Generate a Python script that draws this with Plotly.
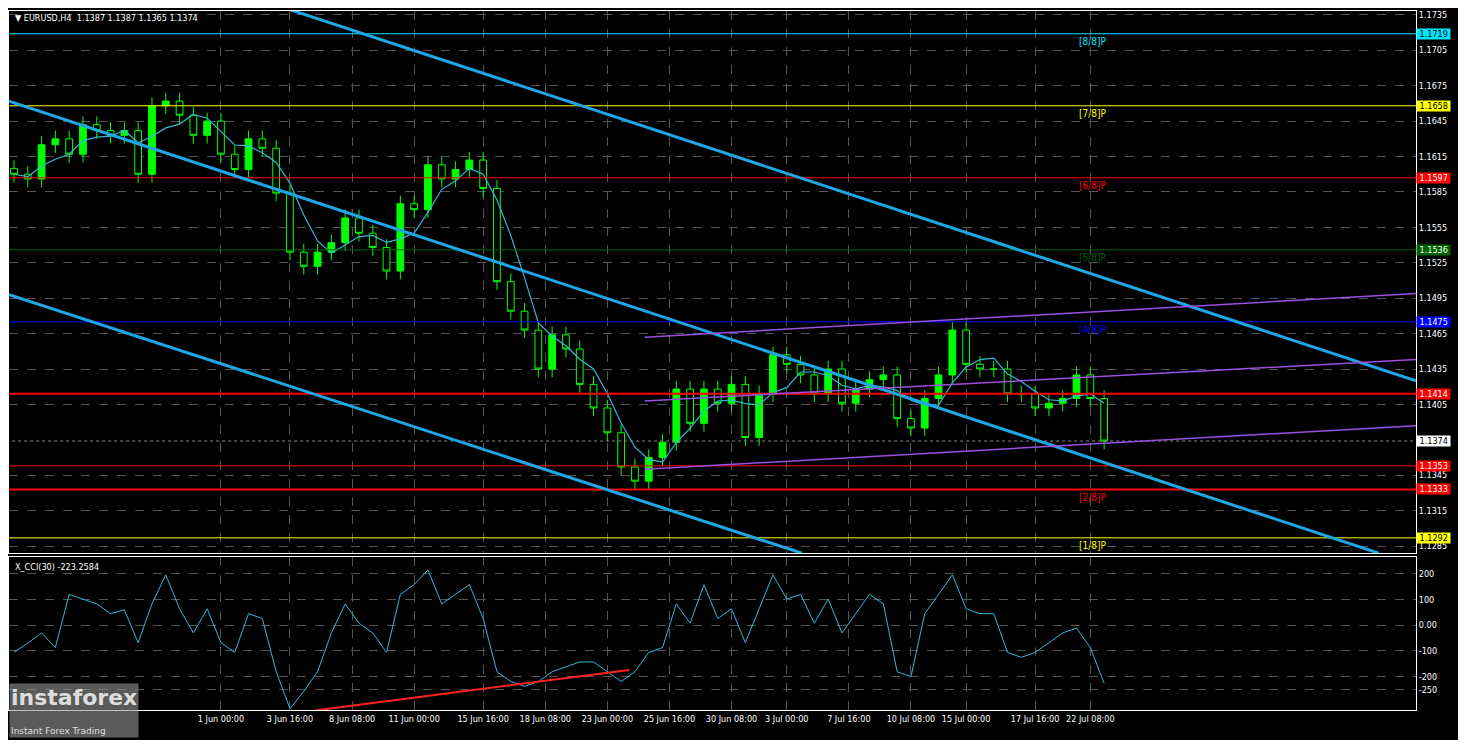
import plotly.graph_objects as go
import pandas as pd
from plotly.subplots import make_subplots

# closes of the bars (open = previous close)
closes = [1.1600, 1.1596, 1.1625, 1.1630, 1.1617, 1.1642, 1.1637, 1.1633, 1.1637, 1.1600,
          1.1658, 1.1662, 1.1650, 1.1633, 1.1645, 1.1617, 1.1604, 1.1630, 1.1622, 1.1584,
          1.1534, 1.1522, 1.1534, 1.1542, 1.1563, 1.1550, 1.1538, 1.1518, 1.1575, 1.1570,
          1.1608, 1.1596, 1.1604, 1.1612, 1.1588, 1.1509, 1.1484, 1.1468, 1.1435, 1.1464,
          1.1452, 1.1422, 1.1402, 1.1381, 1.1352, 1.1340, 1.1360, 1.1373, 1.1418, 1.1389,
          1.1418, 1.1406, 1.1422, 1.1377, 1.1414, 1.1447, 1.1439, 1.1430, 1.1414, 1.1435,
          1.1406, 1.1418, 1.1426, 1.1430, 1.1393, 1.1385, 1.1410, 1.1430, 1.1468, 1.1439,
          1.1435, 1.1435, 1.1414, 1.1414, 1.1402, 1.1406, 1.1410, 1.1430, 1.1410, 1.1374]
cci = [-105, -70, -30, -87, 120, 102, 83, 45, 60, -68, 83, 196, 64, -30, 64, -68, -106, 45, 26, -181,
       -325, -257, -181, -30, 83, 8, -30, -106, 120, 158, 215, 83, 120, 158, 26, -181, -219, -238, -219, -181,
       -162, -143, -143, -181, -219, -181, -106, -87, 83, 8, 158, 26, 64, -68, 64, 196, 102, 120, 8, 102,
       -30, 45, 120, 83, -181, -200, 45, 120, 196, 64, 45, 45, -106, -125, -106, -68, -30, -11, -87, -226]
tick_idx = [15, 20, 24.5, 29, 34, 38.5, 43, 47.5, 52, 56, 60.5, 65, 69, 74, 78]
tick_text = ['1 Jun 00:00', '3 Jun 16:00', '8 Jun 08:00', '11 Jun 00:00', '15 Jun 16:00', '18 Jun 08:00',
             '23 Jun 00:00', '25 Jun 16:00', '30 Jun 08:00', '3 Jul 00:00', '7 Jul 16:00', '10 Jul 08:00',
             '15 Jul 00:00', '17 Jul 16:00', '22 Jul 08:00']
price_ticks = [1.1735, 1.1705, 1.1675, 1.1645, 1.1615, 1.1585, 1.1555, 1.1525, 1.1495, 1.1465,
               1.1435, 1.1405, 1.1345, 1.1315, 1.1285]
cci_ticks = [200, 100, 0, -100, -200, -250]
cci_text = ['200', '100', '0.00', '-100', '-200', '-250']
# murrey levels: value, colour, label
levels = [(1.1719, '#00e5ff', '[8/8]P'), (1.1658, '#ffff00', '[7/8]P'), (1.1597, '#ff0000', '[6/8]P'),
          (1.1536, '#006400', '[5/8]P'), (1.1475, '#0000ff', '[4/8]P'), (1.1414, '#ff0000', ''),
          (1.1353, '#ff0000', ''), (1.1333, '#ff0000', '[2/8]P'), (1.1292, '#ffff00', '[1/8]P')]
# trend lines: x0, y0, x1, y1 (bar index, price)
channel = [(19.6, 1.1741, 101.6, 1.1425), (-0.36, 1.1662, 98.9, 1.1279), (-0.36, 1.1498, 57.1, 1.1279)]
purple = [(45.7, 1.1462, 101.6, 1.1499), (45.7, 1.1408, 101.6, 1.1443), (45.7, 1.1350, 101.6, 1.1387)]
cci_line = (21.8, -332, 44.6, -174)

idx = list(range(len(closes)))
opens = [closes[0] + 0.0005] + closes[:-1]
highs = [max(o, c) + 0.0007 for o, c in zip(opens, closes)]
lows = [min(o, c) - 0.0007 for o, c in zip(opens, closes)]
ma = pd.Series(closes).rolling(4, min_periods=1).mean()

small = dict(color='white', size=9, family='Liberation Sans Narrow, DejaVu Sans Condensed, Liberation Sans')

fig = make_subplots(rows=2, cols=1, shared_xaxes=True, row_heights=[0.78, 0.22], vertical_spacing=0.006)
fig.add_trace(go.Candlestick(x=idx, open=opens, high=highs, low=lows, close=closes,
                             increasing=dict(line=dict(color='#00ff00', width=1), fillcolor='#00ff00'),
                             decreasing=dict(line=dict(color='#00ff00', width=1), fillcolor='#000000'),
                             whiskerwidth=0, showlegend=False), row=1, col=1)
fig.add_trace(go.Scatter(x=idx, y=ma, mode='lines', line=dict(color='#35b8d8', width=1.2),
                         showlegend=False), row=1, col=1)

for v, c, lab in levels:
    w = 2 if v in (1.1414, 1.1333) else 1
    fig.add_shape(type='line', xref='x', yref='y', x0=-1, x1=102, y0=v, y1=v, line=dict(color=c, width=w))
    fc = 'white' if c in ('#0000ff', '#006400', '#ff0000') else 'black'
    fig.add_annotation(xref='paper', yref='y', x=1.0, y=v, xanchor='left', text=' %.4f ' % v,
                       bgcolor=c, font=dict(small, color=fc), showarrow=False, borderpad=0)
    if lab:
        fig.add_annotation(xref='x', yref='y', x=77, y=v, yshift=-8, xanchor='left', text=lab,
                           font=dict(small, color=c, size=10), showarrow=False)
fig.add_shape(type='line', xref='x', yref='y', x0=-1, x1=102, y0=closes[-1], y1=closes[-1],
              line=dict(color='#888888', width=1, dash='dot'))
fig.add_annotation(xref='paper', yref='y', x=1.0, y=closes[-1], xanchor='left', text=' %.4f ' % closes[-1],
                   bgcolor='white', font=dict(small, color='black'), showarrow=False, borderpad=0)

for x0, y0, x1, y1 in channel:
    fig.add_shape(type='line', xref='x', yref='y', x0=x0, y0=y0, x1=x1, y1=y1, line=dict(color='#1ea7e6', width=3))
for x0, y0, x1, y1 in purple:
    fig.add_shape(type='line', xref='x', yref='y', x0=x0, y0=y0, x1=x1, y1=y1, line=dict(color='#9b4fe0', width=1.5))

fig.add_trace(go.Scatter(x=idx, y=cci, mode='lines', line=dict(color='#35b8d8', width=1), showlegend=False), row=2, col=1)
fig.add_shape(type='line', xref='x2', yref='y2', x0=cci_line[0], y0=cci_line[1], x1=cci_line[2], y1=cci_line[3],
              line=dict(color='#ff2020', width=2))

grid = dict(showgrid=True, gridcolor='#555555', griddash='dash', gridwidth=1, automargin=False)
fig.update_xaxes(range=[-0.36, 101.6], tickvals=tick_idx, ticktext=tick_text, rangeslider_visible=False,
                 showline=True, linecolor='white', mirror=True, zeroline=False, tickangle=0,
                 tickfont=small, **grid)
fig.update_xaxes(showticklabels=False, row=1, col=1)
fig.update_yaxes(side='right', range=[1.12792, 1.17383], tickvals=price_ticks, tickformat='.4f',
                 showline=True, linecolor='white', mirror=True, zeroline=False,
                 tickfont=small, row=1, col=1, **grid)
fig.update_yaxes(side='right', range=[-330, 265], tickvals=cci_ticks, ticktext=cci_text,
                 showline=True, linecolor='white', mirror=True, zeroline=False,
                 tickfont=small, row=2, col=1, **grid)

fig.add_annotation(xref='paper', yref='paper', x=0.003, y=1.0, xanchor='left', yanchor='top', showarrow=False,
                   text='▼ EURUSD,H4  1.1387 1.1387 1.1365 1.1374', font=small)
fig.add_annotation(xref='paper', yref='paper', x=0.003, y=0.215, xanchor='left', yanchor='top', showarrow=False,
                   text='X_CCI(30) -223.2584', font=small)
fig.add_annotation(xref='paper', yref='paper', x=0.0, y=-0.04, xanchor='left', yanchor='bottom', showarrow=False,
                   text='<b>instaforex</b><br><span style="font-size:9px">Instant Forex Trading</span>',
                   font=dict(color='#dddddd', size=22), bgcolor='rgba(150,150,150,0.6)', align='left')

fig.update_layout(width=1450, height=732, paper_bgcolor='black', plot_bgcolor='black',
                  margin=dict(l=1, r=42, t=3, b=30), font=dict(family='DejaVu Sans', color='white'))
fig.write_html("out.html")
